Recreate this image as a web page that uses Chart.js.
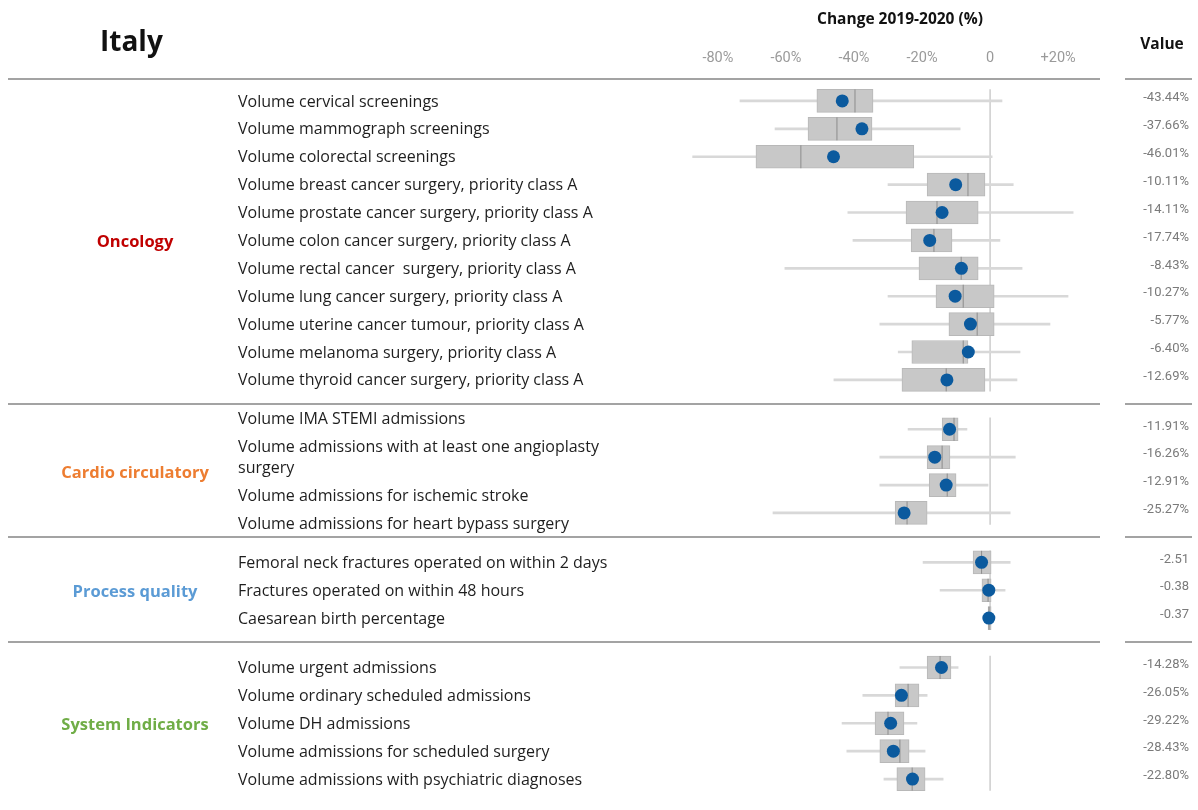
<!DOCTYPE html>
<html>
<head>
<meta charset="utf-8">
<title>Italy – Change 2019-2020</title>
<script src="https://cdn.jsdelivr.net/npm/chart.js@4.4.1/dist/chart.umd.min.js"></script>
<style>
  html, body { margin: 0; padding: 0; background: #ffffff; }
  #wrap { position: relative; width: 1198px; height: 810px; }
</style>
</head>
<body>
<div id="wrap"><canvas id="chart" width="1198" height="810"></canvas></div>
<script>
// ---- data ----
const sectionNames = ['Oncology', 'Cardio circulatory', 'Process quality', 'System Indicators'];
const sectionSizes = [11, 4, 3, 5];
const valueSuffix = ['%', '%', '', '%'];

const indicators = [
  'Volume cervical screenings',
  'Volume mammograph screenings',
  'Volume colorectal screenings',
  'Volume breast cancer surgery, priority class A',
  'Volume prostate cancer surgery, priority class A',
  'Volume colon cancer surgery, priority class A',
  'Volume rectal cancer  surgery, priority class A',
  'Volume lung cancer surgery, priority class A',
  'Volume uterine cancer tumour, priority class A',
  'Volume melanoma surgery, priority class A',
  'Volume thyroid cancer surgery, priority class A',
  'Volume IMA STEMI admissions',
  ['Volume admissions with at least one angioplasty', 'surgery'],
  'Volume admissions for ischemic stroke',
  'Volume admissions for heart bypass surgery',
  'Femoral neck fractures operated on within 2 days',
  'Fractures operated on within 48 hours',
  'Caesarean birth percentage',
  'Volume urgent admissions',
  'Volume ordinary scheduled admissions',
  'Volume DH admissions',
  'Volume admissions for scheduled surgery',
  'Volume admissions with psychiatric diagnoses'
];

// national change 2019-2020
const italyChange = [-43.44, -37.66, -46.01, -10.11, -14.11, -17.74, -8.43, -10.27, -5.77, -6.40, -12.69,
                     -11.91, -16.26, -12.91, -25.27,
                     -2.51, -0.38, -0.37,
                     -14.28, -26.05, -29.22, -28.43, -22.80];

// regional distribution of the change
const regionMin    = [-73.5, -63.2, -87.4, -30.0, -41.8, -40.3, -60.3, -30.0, -32.4, -27.0, -45.9,
                      -24.1, -32.4, -32.4, -63.8,
                      -19.7, -14.7, -2.0,
                      -26.5, -37.4, -43.5, -42.1, -31.2];
const regionQ1     = [-50.9, -53.5, -68.8, -18.5, -24.7, -23.2, -20.9, -15.9, -12.1, -23.0, -25.9,
                      -14.1, -18.5, -17.9, -27.9,
                      -5.0, -2.4, -0.6,
                      -18.5, -27.9, -33.8, -32.4, -27.4];
const regionMedian = [-39.7, -45.0, -55.6, -6.5, -15.6, -16.5, -8.5, -7.9, -3.8, -7.9, -12.9,
                      -10.6, -14.1, -12.6, -24.4,
                      -2.5, -0.6, -0.3,
                      -14.7, -24.1, -30.0, -26.5, -22.9];
const regionQ3     = [-34.4, -34.7, -22.4, -1.5, -3.5, -11.2, -3.5, 1.2, 1.2, -6.5, -1.5,
                      -9.4, -11.8, -10.0, -18.5,
                      0.3, 0.3, 0.3,
                      -11.5, -20.9, -25.3, -23.8, -19.1];
const regionMax    = [3.5, -8.8, 0.6, 6.8, 24.4, 2.9, 9.4, 22.9, 17.6, 8.8, 7.9,
                      -6.8, 7.4, -0.6, 5.9,
                      5.9, 4.4, 1.0,
                      -9.4, -18.5, -21.5, -19.1, -13.8];

const axisTicks = [-80, -60, -40, -20, 0, 20];

// ---- layout helpers ----
const SECTION_GAP = 0.77;            // extra rows of space between sections
const rowSection = sectionSizes.flatMap((n, s) => Array(n).fill(s));
const rowPos = rowSection.map((s, i) => i + s * SECTION_GAP);
const sectionRows = sectionSizes.map((n, s) => {
  const first = sectionSizes.slice(0, s).reduce((a, b) => a + b, 0);
  return { first, last: first + n - 1 };
});

const COLORS = {
  section: ['#c00000', '#ed7d31', '#5b9bd5', '#70ad47'],
  dot: '#0b5a9e',
  box: '#c8c8c8',
  boxEdge: '#b8b8b8',
  median: '#8c8c8c',
  whisker: '#d8d8d8',
  zero: '#cdcdcd',
  rule: '#a3a3a3',
  text: '#1e1e1e',
  value: '#7a7a7a',
  tick: '#9a9a9a'
};

const formatValue = (v, i) => v.toFixed(2) + valueSuffix[rowSection[i]];

// ---- text, rules and value column ----
const tablePlugin = {
  id: 'tableText',
  afterDraw(chart) {
    const ctx = chart.ctx;
    const ys = chart.scales.y;
    const px = p => ys.getPixelForValue(p);
    const step = px(1) - px(0);
    const WRAP_LH = 21;

    ctx.save();
    ctx.textBaseline = 'middle';

    // header
    ctx.fillStyle = '#111111';
    ctx.font = 'bold 28px "Open Sans"';
    ctx.textAlign = 'left';
    ctx.fillText('Italy', 100, 43);
    ctx.font = 'bold 15.5px "Open Sans"';
    ctx.textAlign = 'center';
    ctx.fillText('Change 2019-2020 (%)', 900, 20);
    ctx.fillText('Value', 1162, 45);

    const rule = y => {
      ctx.strokeStyle = COLORS.rule;
      ctx.lineWidth = 2;
      ctx.beginPath();
      ctx.moveTo(8, y); ctx.lineTo(1100, y);
      ctx.moveTo(1125, y); ctx.lineTo(1192, y);
      ctx.stroke();
    };
    rule(79);

    sectionRows.forEach((sec, s) => {
      const yFirst = px(rowPos[sec.first]);
      const yLast = px(rowPos[sec.last]);
      const center = (yFirst + yLast) / 2;

      // section name
      ctx.fillStyle = COLORS.section[s];
      ctx.font = 'bold 16.5px "Open Sans"';
      ctx.textAlign = 'center';
      ctx.fillText(sectionNames[s], 135, center + 2);

      // indicator labels, stacked as a block centred on the section
      const lines = [];
      let cursor = 0;
      for (let i = sec.first; i <= sec.last; i++) {
        const parts = Array.isArray(indicators[i]) ? indicators[i] : [indicators[i]];
        parts.forEach((t, l) => lines.push({ t, y: cursor + l * WRAP_LH }));
        cursor += (parts.length - 1) * WRAP_LH + step;
      }
      const blockH = lines[lines.length - 1].y;
      const offset = center - blockH / 2 + 1;
      ctx.fillStyle = COLORS.text;
      ctx.font = '16px "Open Sans"';
      ctx.textAlign = 'left';
      lines.forEach(ln => ctx.fillText(ln.t, 238, offset + ln.y));

      // value column
      ctx.fillStyle = COLORS.value;
      ctx.font = '13px Roboto';
      ctx.textAlign = 'right';
      for (let i = sec.first; i <= sec.last; i++) {
        ctx.fillText(formatValue(italyChange[i], i), 1189, px(rowPos[i]) - 3);
      }

      // separator after the section
      if (s < sectionRows.length - 1) {
        const next = sectionRows[s + 1];
        rule(Math.round((yLast + px(rowPos[next.first])) / 2) - 1);
      }
    });
    ctx.restore();
  }
};

// ---- datasets ----
const zeroLines = sectionRows.map(sec => ({
  type: 'line',
  data: [{ x: 0, y: rowPos[sec.first] - 0.42 }, { x: 0, y: rowPos[sec.last] + 0.42 }],
  borderColor: COLORS.zero,
  borderWidth: 1.5,
  pointRadius: 0,
  order: 5
}));

const datasets = [
  ...zeroLines,
  {
    type: 'bar',
    indexAxis: 'y',
    data: indicators.map((_, i) => ({ x: [regionMin[i], regionMax[i]], y: rowPos[i] })),
    backgroundColor: COLORS.whisker,
    barThickness: 2,
    grouped: false,
    order: 4
  },
  {
    type: 'bar',
    indexAxis: 'y',
    data: indicators.map((_, i) => ({ x: [regionQ1[i], regionQ3[i]], y: rowPos[i] })),
    backgroundColor: COLORS.box,
    borderColor: COLORS.boxEdge,
    borderWidth: 1,
    borderSkipped: false,
    barThickness: 23,
    grouped: false,
    order: 3
  },
  {
    type: 'scatter',
    data: indicators.map((_, i) => ({ x: regionMedian[i], y: rowPos[i] })),
    pointStyle: 'line',
    rotation: 90,
    radius: 11.5,
    borderColor: COLORS.median,
    borderWidth: 1,
    order: 2
  },
  {
    type: 'scatter',
    data: indicators.map((_, i) => ({ x: italyChange[i], y: rowPos[i] })),
    pointRadius: 6.5,
    backgroundColor: COLORS.dot,
    borderWidth: 0,
    order: 1
  }
];

const lastPos = rowPos[rowPos.length - 1];

new Chart(document.getElementById('chart'), {
  type: 'bar',
  data: { datasets },
  options: {
    responsive: false,
    devicePixelRatio: 1,
    animation: false,
    events: [],
    layout: { padding: { left: 677, right: 99, top: 27, bottom: 17 }, autoPadding: false },
    plugins: { legend: { display: false }, tooltip: { enabled: false } },
    scales: {
      x: {
        type: 'linear',
        position: 'top',
        offset: false,
        min: -92,
        max: 32,
        grid: { display: false },
        border: { display: false },
        afterBuildTicks: scale => { scale.ticks = axisTicks.map(v => ({ value: v })); },
        afterFit: scale => { scale.height = 60; },
        ticks: {
          color: COLORS.tick,
          font: { family: 'Roboto', size: 14.5 },
          padding: 12,
          callback: v => v === 0 ? '0' : (v > 0 ? '+' : '') + v + '%'
        }
      },
      y: {
        type: 'linear',
        reverse: true,
        offset: false,
        min: -0.5,
        max: lastPos + 0.5,
        display: false
      }
    }
  },
  plugins: [tablePlugin]
});
</script>
</body>
</html>
